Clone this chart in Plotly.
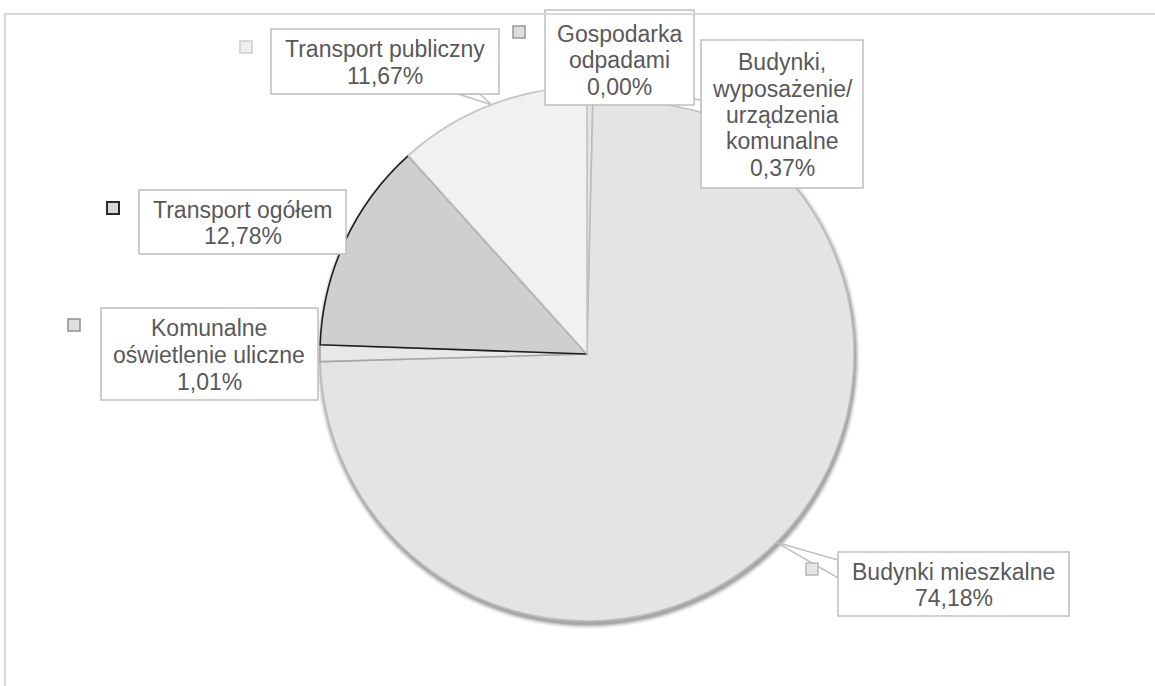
import math
import plotly.graph_objects as go

W, H = 1155, 686

# Shares of final energy use by sector, listed clockwise from 12 o'clock
categories = [
    "Gospodarka odpadami",
    "Budynki, wyposażenie/urządzenia komunalne",
    "Budynki mieszkalne",
    "Komunalne oświetlenie uliczne",
    "Transport ogółem",
    "Transport publiczny",
]
shares = [0.00, 0.37, 74.18, 1.01, 12.78, 11.67]
label_lines = [
    ["Gospodarka", "odpadami"],
    ["Budynki,", "wyposażenie/", "urządzenia", "komunalne"],
    ["Budynki mieszkalne"],
    ["Komunalne", "oświetlenie uliczne"],
    ["Transport ogółem"],
    ["Transport publiczny"],
]
slice_fill = ["#cfcfcf", "#e4e4e4", "#e4e4e4", "#e8e8e8", "#cfcfcf", "#f1f1f1"]
slice_edge = ["#a6a6a6", "#bdbdbd", "#bdbdbd", "#a6a6a6", "#1e1e1e", "#c4c4c4"]
key_fill = ["#dedede", "#e4e4e4", "#e6e6e6", "#e0e0e0", "#d9d9d9", "#efefef"]
key_edge = ["#9a9a9a", "#bdbdbd", "#b8b8b8", "#8f8f8f", "#2b2b2b", "#cccccc"]

# Layout of the pie (pixels)
CX, CY, R = 587, 354, 267
LINE_GAP = 26.5

# Label boxes (left, top, right, bottom) and legend keys (left, top, size)
boxes = [
    (545, 10, 694, 105),
    (701, 40, 863, 188),
    (838, 552, 1069, 616),
    (101, 308, 318, 400),
    (139, 190, 346, 254),
    (271, 29, 499, 94),
]
keys = [
    (513, 26, 12),
    (675, 50, 12),
    (806, 563, 12),
    (68, 319, 12),
    (107, 202, 12),
    (240, 41, 12),
]


def px(x, y):
    return x / W, 1 - y / H


def fmt(v):
    return f"{v:.2f}".replace(".", ",") + "%"


fig = go.Figure()

x0, y1 = px(CX - R, CY - R)
x1, y0 = px(CX + R, CY + R)
fig.add_trace(go.Pie(
    labels=categories,
    values=shares,
    sort=False,
    direction="clockwise",
    rotation=0,
    textinfo="none",
    hoverinfo="skip",
    showlegend=False,
    marker=dict(colors=slice_fill, line=dict(color=slice_edge, width=1.6)),
    domain=dict(x=[x0, x1], y=[y0, y1]),
))

shapes = []

# Chart-area frame
shapes.append(dict(type="rect", xref="paper", yref="paper",
                   x0=5 / W, y0=-0.1, x1=1.1, y1=1 - 14 / H,
                   line=dict(color="#d9d9d9", width=2), fillcolor="rgba(0,0,0,0)",
                   layer="below"))

# Soft drop shadow behind the pie
for dr, op in [(5, 0.05), (4, 0.08), (3, 0.12), (2, 0.18), (1, 0.25)]:
    ax0, ay1 = px(CX - R - dr + 1, CY - R - dr + 3)
    ax1, ay0 = px(CX + R + dr + 1, CY + R + dr + 3)
    shapes.append(dict(type="circle", xref="paper", yref="paper",
                       x0=ax0, x1=ax1, y0=ay0, y1=ay1,
                       fillcolor=f"rgba(90,90,90,{op})", line=dict(width=0),
                       layer="below"))

# Mid-angle of every slice, used to anchor the callouts
total = sum(shares)
cum = 0.0
mids = []
for v in shares:
    mids.append((cum + v / 2) / total * 2 * math.pi)
    cum += v


def arc_point(theta):
    return CX + R * math.sin(theta), CY - R * math.cos(theta)


def path(points):
    d = ""
    for i, (x, y) in enumerate(points):
        X, Y = px(x, y)
        d += ("M" if i == 0 else "L") + f"{X:.5f},{Y:.5f} "
    return d + "Z"


# Callout wedges from the slice edge to the box
callouts = {
    1: [(701, 100), (701, 112)],
    2: [(838, 560), (838, 578)],
    5: [(458, 94), (480, 94)],
}
for idx, base in callouts.items():
    ax, ay = arc_point(mids[idx])
    shapes.append(dict(type="path", xref="paper", yref="paper",
                       path=path([(ax, ay)] + base),
                       fillcolor="white", line=dict(color="#bfbfbf", width=1.5)))

# Legend keys and label boxes
for i, (kx, ky, ks) in enumerate(keys):
    kx0, ky1 = px(kx, ky)
    kx1, ky0 = px(kx + ks, ky + ks)
    shapes.append(dict(type="rect", xref="paper", yref="paper",
                       x0=kx0, x1=kx1, y0=ky0, y1=ky1,
                       fillcolor=key_fill[i],
                       line=dict(color=key_edge[i], width=2 if i == 4 else 1.5)))

for i, (l, t, r, b) in enumerate(boxes):
    bx0, by1 = px(l, t)
    bx1, by0 = px(r, b)
    shapes.append(dict(type="rect", xref="paper", yref="paper",
                       x0=bx0, x1=bx1, y0=by0, y1=by1,
                       fillcolor="white", line=dict(color="#bfbfbf", width=1.5)))

# Frame top edge drawn over the top box
shapes.append(dict(type="line", xref="paper", yref="paper",
                   x0=5 / W, x1=1.1, y0=1 - 14 / H, y1=1 - 14 / H,
                   line=dict(color="#d9d9d9", width=2)))

# Label text, one annotation per line for a tight line spacing
annotations = []
for i, (l, t, r, b) in enumerate(boxes):
    lines = label_lines[i] + [fmt(shares[i])]
    top = max(t, 14)
    cyc = (top + b) / 2 + 1
    n = len(lines)
    for k, line in enumerate(lines):
        ly = cyc + (k - (n - 1) / 2) * LINE_GAP
        ax, ay = px((l + r) / 2, ly)
        annotations.append(dict(
            x=ax, y=ay, xref="paper", yref="paper",
            text=line, showarrow=False,
            xanchor="center", yanchor="middle",
            font=dict(family="Liberation Sans, Arial, sans-serif", size=23, color="#595959"),
        ))

fig.update_layout(
    width=W, height=H,
    margin=dict(l=0, r=0, t=0, b=0),
    paper_bgcolor="white",
    plot_bgcolor="white",
    shapes=shapes,
    annotations=annotations,
)

fig.write_html("out.html")
